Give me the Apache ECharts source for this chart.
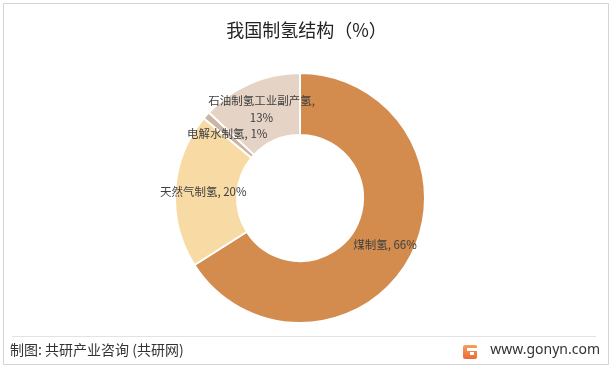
<!DOCTYPE html>
<html><head><meta charset="utf-8">
<script src="https://cdn.jsdelivr.net/npm/echarts@6/dist/echarts.min.js"></script>
<style>html,body{margin:0;padding:0;background:#fff}#c{width:613px;height:368px}</style>
</head><body><div id="c"></div>
<script>
const categories = ['煤制氢', '天然气制氢', '电解水制氢', '石油制氢工业副产氢'];
const values = [66, 20, 1, 13];
const labelNames = ['煤制氢', '天然气制氢', '电解水制氢', '石油制氢工业副产氢,\n'];
const colors = ['#D38C4E', '#F8DBA4', '#CDB5A4', '#E5D3C6'];
const titleText = '我国制氢结构（%）';
const sourceText = '制图: 共研产业咨询 (共研网)';
const siteText = 'www.gonyn.com';

const chart = echarts.init(document.getElementById('c'), null, {renderer: 'canvas'});
const FONT = '"Noto Sans CJK SC", "Microsoft YaHei", sans-serif';
chart.setOption({
  animation: false,
  backgroundColor: '#fff',
  title: {
    text: titleText, left: 'center', top: 16,
    textStyle: {fontFamily: FONT, fontSize: 18, fontWeight: 'normal', color: '#222'}
  },
  series: [{
    type: 'pie',
    center: [300, 198],
    radius: [63, 125],
    startAngle: 90,
    clockwise: true,
    avoidLabelOverlap: false,
    labelLayout: {hideOverlap: false},
    itemStyle: {borderColor: '#fff', borderWidth: 2},
    label: {
      show: true, position: 'inside',
      fontFamily: FONT, fontSize: 11.5, color: '#404040', lineHeight: 17,
      formatter: p => {
        const n = labelNames[p.dataIndex];
        return n.endsWith('\n') ? n + p.value + '%' : n + ', ' + p.value + '%';
      }
    },
    labelLine: {show: false},
    data: categories.map((c, i) => ({name: c, value: values[i], itemStyle: {color: colors[i]}}))
  }],
  graphic: [
    {type: 'rect', shape: {x: 3.5, y: 3.5, width: 605, height: 361}, style: {fill: null, stroke: '#d4d4d4', lineWidth: 1}, silent: true},
    {type: 'line', shape: {x1: 12, y1: 336.5, x2: 596, y2: 336.5}, style: {stroke: '#e3e3e3', lineWidth: 1}},
    {type: 'text', left: 10, top: 343, style: {text: sourceText, font: '14px ' + FONT, fill: '#333'}},
    {type: 'text', right: 13, top: 343, style: {text: siteText, font: '14px "Noto Sans", sans-serif', fill: '#333'}},
    {type: 'group', left: 463, top: 345, children: [
      {type: 'rect', shape: {x: 0, y: 0, width: 14, height: 14, r: 2}, style: {fill: new echarts.graphic.LinearGradient(0,0,0,1,[{offset:0,color:'#F5A05A'},{offset:1,color:'#EC6A3A'}])}},
      {type: 'rect', shape: {x: 4, y: 3, width: 10, height: 3}, style: {fill: '#fff'}},
      {type: 'rect', shape: {x: 7, y: 7, width: 4, height: 3}, style: {fill: '#fff'}}
    ]}
  ]
});
</script></body></html>
